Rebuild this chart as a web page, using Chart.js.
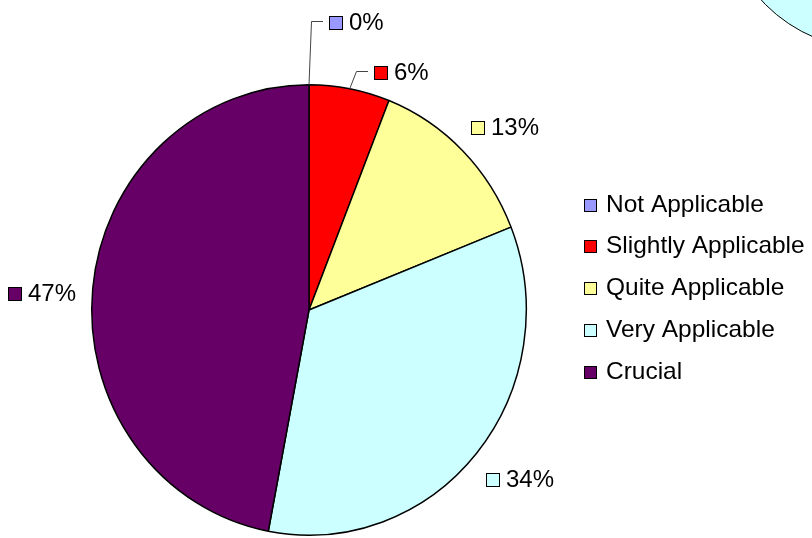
<!DOCTYPE html>
<html>
<head>
<meta charset="utf-8">
<script src="https://cdn.jsdelivr.net/npm/chart.js@4.4.1/dist/chart.umd.min.js"></script>
<style>
  html, body { margin: 0; padding: 0; background: #fff; overflow: hidden; }
  #wrap { position: relative; width: 812px; height: 538px; overflow: hidden; }
  /* edge of a neighbouring pie that pokes into the picture */
  #otherPie { position: absolute; left: 720px; top: -258px; width: 308px; height: 308px;
    border-radius: 50%; background: #ccffff; border: 1.5px solid #000; box-sizing: border-box; }
  canvas { position: absolute; left: 0; top: 0; }
</style>
</head>
<body>
<div id="wrap">
  <div id="otherPie"></div>
  <canvas id="applicability" width="812" height="538"></canvas>
</div>
<script>
const categories = ["Not Applicable", "Slightly Applicable", "Quite Applicable", "Very Applicable", "Crucial"];
const shares = [0, 6, 13, 34, 47];
const sliceColors = ["#9999ff", "#ff0000", "#ffff99", "#ccffff", "#660066"];

// label tweaks (like labels dragged by hand in the original)
const labelNudge = [[48, -38.5], [42.7, 7], [1.7, -6.6], [-0.8, 9.5], [8, 6.2]];
const withLeader = [true, true, false, false, false];
const FONT = "24px 'Liberation Sans', Arial, sans-serif";
// the original pie is a touch taller than wide
const squash = { sx: 0.982, sy: 1.018, dy: -1 };

function stretched(p, x, y) {
  return [p.x + (x - p.x) * squash.sx, p.y + squash.dy + (y - p.y) * squash.sy];
}

const ovalPie = {
  id: "ovalPie",
  beforeDatasetsDraw(chart) {
    const arc = chart.getDatasetMeta(0).data[0];
    const ctx = chart.ctx;
    ctx.save();
    ctx.translate(arc.x, arc.y + squash.dy);
    ctx.scale(squash.sx, squash.sy);
    ctx.translate(-arc.x, -arc.y);
  },
  afterDatasetsDraw(chart) {
    chart.ctx.restore();
  }
};

const sliceLabels = {
  id: "sliceLabels",
  afterDatasetsDraw(chart) {
    const ctx = chart.ctx;
    const meta = chart.getDatasetMeta(0);
    const total = shares.reduce((a, b) => a + b, 0);
    ctx.save();
    ctx.font = FONT;
    ctx.textBaseline = "alphabetic";
    meta.data.forEach((arc, i) => {
      const p = arc.getProps(["x", "y", "startAngle", "endAngle", "outerRadius"], true);
      const mid = (p.startAngle + p.endAngle) / 2;
      const cos = Math.cos(mid), sin = Math.sin(mid);
      const text = Math.round(shares[i] / total * 100) + "%";
      const w = 21 + ctx.measureText(text).width;
      const ax = p.x + cos * (p.outerRadius + 20);
      const ay = p.y + sin * (p.outerRadius + 20);
      const left = Math.round(ax + cos * w / 2 - w / 2 + labelNudge[i][0]);
      const cy = Math.round(ay + sin * 8.5 + labelNudge[i][1]);
      if (withLeader[i]) {
        const e = stretched(p, p.x + cos * p.outerRadius, p.y + sin * p.outerRadius);
        ctx.strokeStyle = "#444";
        ctx.lineWidth = 1;
        ctx.beginPath();
        ctx.moveTo(e[0], e[1]);
        ctx.lineTo(left - 18 + 0.5, cy - 1.5);
        ctx.lineTo(left - 6, cy - 1.5);
        ctx.stroke();
      }
      ctx.fillStyle = sliceColors[i];
      ctx.fillRect(left, cy - 7, 14, 14);
      ctx.strokeStyle = "#000";
      ctx.lineWidth = 1;
      ctx.strokeRect(left + 0.5, cy - 6.5, 13, 13);
      ctx.fillStyle = "#000";
      ctx.fillText(text, left + 20, cy + 6.5);
    });
    ctx.restore();
  }
};

const sideLegend = {
  id: "sideLegend",
  afterDraw(chart) {
    const ctx = chart.ctx;
    ctx.save();
    ctx.font = FONT;
    ctx.textBaseline = "alphabetic";
    categories.forEach((name, i) => {
      const base = Math.round(211.5 + i * 41.9);
      ctx.fillStyle = sliceColors[i];
      ctx.fillRect(584, base - 13, 13, 13);
      ctx.strokeStyle = "#000";
      ctx.lineWidth = 1;
      ctx.strokeRect(584.5, base - 12.5, 12, 12);
      ctx.fillStyle = "#000";
      ctx.save();
      ctx.translate(606, base);
      ctx.scale(1.02, 1);
      ctx.fillText(name, 0, 0);
      ctx.restore();
    });
    ctx.restore();
  }
};

const config = {
  type: "pie",
  data: {
    labels: categories,
    datasets: [{
      data: shares,
      backgroundColor: sliceColors,
      borderColor: "#000",
      borderWidth: 1.5,
      hoverOffset: 0,
    }],
  },
  options: {
    responsive: false,
    animation: false,
    layout: { padding: { left: 87, right: 281, top: 89, bottom: 5 } },
    plugins: {
      legend: { display: false },
      tooltip: { enabled: false },
    },
  },
  plugins: [ovalPie, sliceLabels, sideLegend],
};

var myChart = new Chart(document.getElementById("applicability"), config);
</script>
</body>
</html>
